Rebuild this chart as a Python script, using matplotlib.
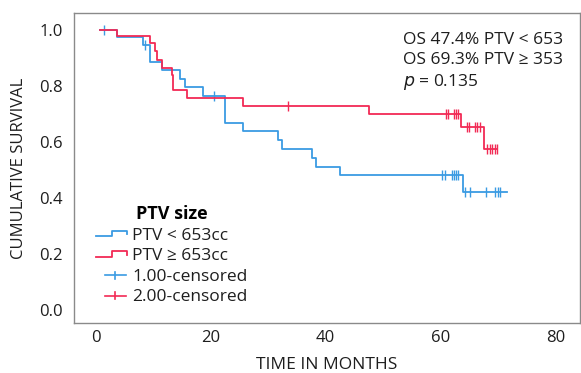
import matplotlib
matplotlib.use("Agg")
import matplotlib.pyplot as plt
import numpy as np
from matplotlib.legend_handler import HandlerBase
from matplotlib.lines import Line2D

plt.rcParams["font.family"] = ["Open Sans", "DejaVu Sans"]

# Kaplan-Meier steps
blue_t = [0.7, 3.8, 8.2, 9.5, 11.5, 14.7, 15.5, 18.6, 22.5, 25.6, 31.7, 32.4,
          37.6, 38.4, 42.5, 63.8]
blue_s = [1.0, 0.976, 0.946, 0.887, 0.857, 0.826, 0.797, 0.765, 0.669, 0.639,
          0.607, 0.576, 0.544, 0.512, 0.482, 0.423]
blue_end = 71.5
blue_cens = [1.4, 8.5, 20.5, 60.3, 60.7, 62.0, 62.3, 62.6, 63.0, 64.3, 65.1,
             67.8, 69.4, 69.9, 70.3]

red_t = [0.7, 3.7, 9.5, 10.4, 10.7, 11.5, 13.2, 13.5, 15.9, 25.6, 47.5,
         63.5, 67.5]
red_s = [1.0, 0.978, 0.952, 0.923, 0.893, 0.865, 0.839, 0.786, 0.756, 0.728,
         0.699, 0.655, 0.574]
red_end = 69.8
red_cens = [33.4, 60.9, 61.3, 62.3, 62.6, 63.0, 64.5, 65.0, 65.9, 66.3, 66.8,
            68.1, 68.5, 69.0, 69.4, 69.8]

BLUE = "#3a9be3"
RED = "#f22a55"
TXT = "#1e1e1e"


def surv_at(t, times, levels):
    idx = np.searchsorted(times, t, side="right") - 1
    return np.asarray(levels)[idx]


class StepHandler(HandlerBase):
    def __init__(self, kind):
        super().__init__()
        self.kind = kind

    def create_artists(self, legend, orig_handle, xdescent, ydescent,
                       width, height, fontsize, trans):
        x0, y0 = -xdescent, -ydescent
        c = orig_handle.get_color()
        if self.kind == "step":
            xs = [x0, x0 + 0.5 * width, x0 + 0.5 * width, x0 + width, x0 + width]
            ys = [y0 + 0.3 * height, y0 + 0.3 * height, y0 + 0.72 * height,
                  y0 + 0.72 * height, y0 + 0.45 * height]
            arts = [Line2D(xs, ys, color=c, lw=1.3)]
        else:
            xm = x0 + 0.62 * width
            arts = [Line2D([x0 + 0.28 * width, x0 + 0.95 * width],
                           [y0 + 0.45 * height] * 2, color=c, lw=1.2),
                    Line2D([xm, xm], [y0 + 0.15 * height, y0 + 0.75 * height],
                           color=c, lw=1.2)]
        for a in arts:
            a.set_transform(trans)
        return arts


fig = plt.figure(figsize=(5.81, 3.73), dpi=100)
ax = fig.add_axes([0.127, 0.134, 0.871, 0.831])

for t, s, end, cens, col in [(blue_t, blue_s, blue_end, blue_cens, BLUE),
                             (red_t, red_s, red_end, red_cens, RED)]:
    ax.step(t + [end], s + [s[-1]], where="post", color=col, lw=1.3)
    ax.plot(cens, surv_at(cens, t, s), ls="none", marker="|", ms=6.5,
            mew=1.0, color=col)

ax.set_xlim(-3.8, 84.2)
ax.set_ylim(-0.046, 1.06)
ax.set_xticks([0, 20, 40, 60, 80])
ax.set_yticks([0.0, 0.2, 0.4, 0.6, 0.8, 1.0])
ax.yaxis.set_major_formatter(matplotlib.ticker.FormatStrFormatter("%.1f"))
ax.tick_params(length=0, labelsize=12, colors=TXT)
ax.tick_params(axis="y", pad=8)
ax.tick_params(axis="x", pad=5)
for sp in ax.spines.values():
    sp.set_color("#8a8a8a")
    sp.set_linewidth(1.0)

ax.set_xlabel("TIME IN MONTHS", fontsize=12.5, labelpad=8, color=TXT)
ax.set_ylabel("CUMULATIVE SURVIVAL", fontsize=12, labelpad=9, color=TXT)

ax.text(0.65, 0.94, "OS 47.4% PTV < 653\nOS 69.3% PTV \u2265 353\n$p$ = 0.135",
        transform=ax.transAxes, fontsize=12.5, va="top", ha="left",
        linespacing=1.32, color=TXT)

h_blue = Line2D([], [], color=BLUE)
h_red = Line2D([], [], color=RED)
h_bc = Line2D([], [], color=BLUE, marker="|")
h_rc = Line2D([], [], color=RED, marker="|")
leg = ax.legend([h_blue, h_red, h_bc, h_rc],
                ["PTV < 653cc", "PTV \u2265 653cc", "1.00-censored",
                 "2.00-censored"],
                handler_map={h_blue: StepHandler("step"),
                             h_red: StepHandler("step"),
                             h_bc: StepHandler("plus"),
                             h_rc: StepHandler("plus")},
                title="PTV size", title_fontproperties={"weight": "bold", "size": 13},
                fontsize=12.5, frameon=False, loc="lower left",
                bbox_to_anchor=(0.03, 0.035), handlelength=1.8,
                handletextpad=0.3, labelspacing=0.25, borderaxespad=0)
for txt in leg.get_texts():
    txt.set_color(TXT)

fig.savefig("out.png", dpi=100)
